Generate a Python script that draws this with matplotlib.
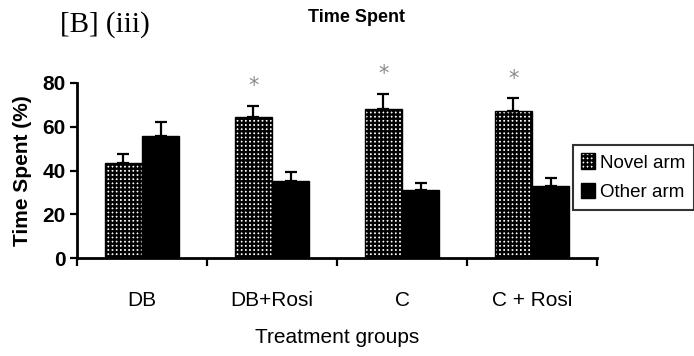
import matplotlib
matplotlib.use("Agg")
import matplotlib.pyplot as plt
import numpy as np

groups = ["DB", "DB+Rosi", "C", "C + Rosi"]
novel = [43.5, 64.5, 68.0, 67.0]
novel_err = [4.0, 5.0, 7.0, 6.0]
other = [56.0, 35.0, 31.0, 33.0]
other_err = [6.0, 4.5, 3.5, 3.5]
star_groups = [1, 2, 3]

plt.rcParams["font.family"] = ["Liberation Sans", "DejaVu Sans"]
plt.rcParams["hatch.linewidth"] = 1.7

fig = plt.figure(figsize=(6.94, 3.56), dpi=100)
ax = fig.add_axes([77 / 694, 1 - 258 / 356, 520 / 694, 175 / 356])

x = np.arange(len(groups))
w = 0.285
ax.bar(x - w / 2, novel, w, color="white", edgecolor="black", hatch="++++",
       linewidth=1.0, label="Novel arm")
ax.bar(x + w / 2, other, w, color="black", edgecolor="black", label="Other arm")
ax.errorbar(x - w / 2, novel, yerr=[np.zeros(4), novel_err], fmt="none",
            ecolor="black", elinewidth=1.6, capsize=4, capthick=1.6)
ax.errorbar(x + w / 2, other, yerr=[np.zeros(4), other_err], fmt="none",
            ecolor="black", elinewidth=1.6, capsize=4, capthick=1.6)

for g in star_groups:
    ax.text(x[g] - w / 2, novel[g] + novel_err[g] + 9, "*", ha="center", va="center",
            fontsize=15, color="#8a8a8a", family="DejaVu Sans", clip_on=False)

ax.set_xlim(-0.5, len(groups) - 0.5)
ax.set_ylim(0, 80)
ax.set_yticks([0, 20, 40, 60, 80])
ax.set_xticks(np.arange(len(groups) + 1) - 0.5)
ax.set_xticklabels([])
ax.set_xticks(x, minor=True)
ax.set_xticklabels(groups, minor=True, fontsize=15)
ax.tick_params(axis="x", which="major", direction="out", length=6, width=1.6)
ax.tick_params(axis="x", which="minor", length=0, pad=24)
ax.tick_params(axis="y", direction="out", length=5, width=1.6, labelsize=15, pad=3)
for t in ax.get_yticklabels():
    t.set_fontweight("bold")

for s in ["top", "right"]:
    ax.spines[s].set_visible(False)
for s in ["left", "bottom"]:
    ax.spines[s].set_linewidth(2.0)

ax.set_ylabel("Time Spent (%)", fontsize=15, fontweight="bold", labelpad=8)
ax.set_xlabel("Treatment groups", fontsize=15, labelpad=13)

fig.text(357 / 694, 1 - 18 / 356, "Time Spent", ha="center", va="center",
         fontsize=13, fontweight="bold")
fig.text(60 / 694, 1 - 25 / 356, "[B] (iii)", ha="left", va="center",
         fontsize=21, family="Liberation Serif")

leg = fig.legend(loc="upper left", bbox_to_anchor=(573 / 694, 1 - 145 / 356),
                 fontsize=13.5, frameon=True, fancybox=False, handlelength=0.7,
                 handleheight=0.9, handletextpad=0.3, borderpad=0.45,
                 labelspacing=0.6, borderaxespad=0)
leg.get_frame().set_edgecolor("black")
leg.get_frame().set_linewidth(1.5)

fig.savefig("out.png", dpi=100)
